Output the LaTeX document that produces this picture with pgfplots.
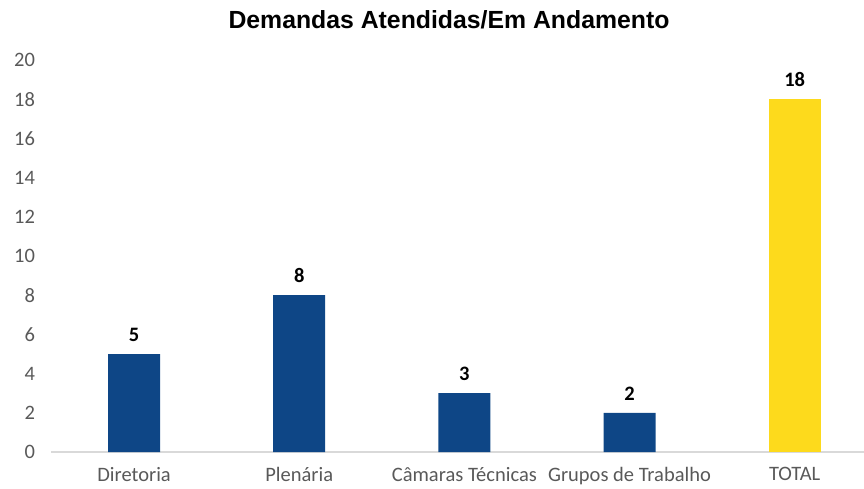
\documentclass[border=0pt]{standalone}
\usepackage{pgfplots}
\pgfplotsset{compat=1.18}
\usepackage{fontspec}
\setmainfont{Carlito}
\newfontfamily\titlefont{Liberation Sans}
\definecolor{barblue}{HTML}{0E4686}
\definecolor{baryellow}{HTML}{FDDA1C}
\definecolor{ticktext}{HTML}{595959}
\definecolor{axline}{HTML}{D9D9D9}
\begin{document}
\begin{tikzpicture}
\begin{axis}[
  at={(0pt,0pt)}, anchor=south west,
  scale only axis,
  width=812.5pt, height=392pt,
  xmin=-0.5, xmax=4.42,
  ymin=0, ymax=20,
  ytick={0,2,...,20},
  xtick={0,1,2,3,4},
  xticklabels={Diretoria,Plenária,Câmaras Técnicas,Grupos de Trabalho,TOTAL},
  axis x line*=bottom,
  axis y line*=left,
  y axis line style={draw=none},
  x axis line style={axline, line width=1.5pt, -},
  major tick length=0pt,
  tick label style={font=\fontsize{20.5}{22}\selectfont, text=ticktext},
  /pgf/number format/assume math mode=true,
  xticklabel style={yshift=-12pt},
  yticklabel style={xshift=-13pt},
  ybar, bar width=52pt,
  nodes near coords,
  every node near coord/.append style={font=\fontsize{20.5}{22}\selectfont\bfseries, text=black, yshift=9pt},
  clip=false,
]
\addplot[fill=barblue, draw=none, bar shift=0pt] coordinates {(0,5) (1,8) (2,3) (3,2)};
\addplot[fill=baryellow, draw=none, bar shift=0pt] coordinates {(4,18)};
\end{axis}
\node[font=\titlefont\fontsize{24.8}{26}\selectfont\bfseries] at (397.5pt,432pt) {Demandas Atendidas/Em Andamento};
\pgfresetboundingbox
\path[use as bounding box] (-51.5pt,-36pt) rectangle (812.5pt,452pt);
\end{tikzpicture}
\end{document}
